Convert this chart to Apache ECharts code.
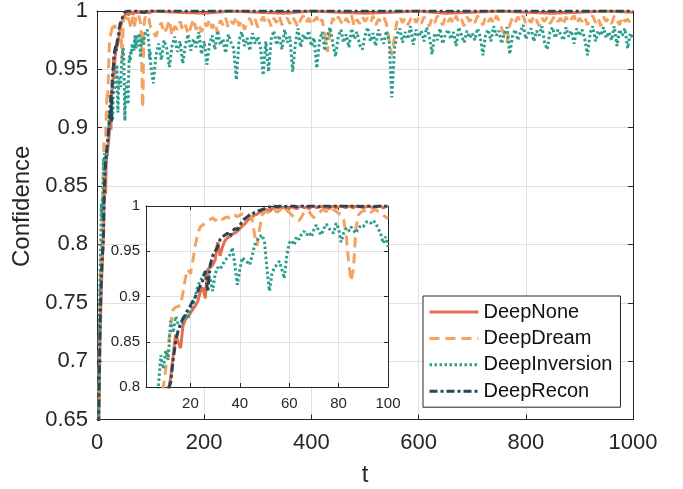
<!DOCTYPE html>
<html>
<head>
<meta charset="utf-8">
<title>Confidence vs t</title>
<script src="https://cdn.jsdelivr.net/npm/echarts@6/dist/echarts.min.js"></script>
<style>
html, body { margin: 0; padding: 0; background: #fff; }
#chart { width: 683px; height: 489px; }
</style>
</head>
<body>
<div id="chart"></div>
<script>
var seriesNames = ['DeepNone', 'DeepDream', 'DeepInversion', 'DeepRecon'];
var colors = ['#e76f51', '#f4a261', '#2a9d8f', '#264653'];

// t = 1..100 (step 1), shared by the main plot and the zoomed inset
var earlyNone = [
  0.49, 0.57, 0.63, 0.67, 0.70, 0.725, 0.745, 0.76, 0.775, 0.786,
  0.797, 0.81, 0.835, 0.858, 0.85, 0.843, 0.868, 0.875, 0.878, 0.882,
  0.886, 0.89, 0.895, 0.905, 0.91, 0.898, 0.93, 0.932, 0.935, 0.94,
  0.96, 0.945, 0.955, 0.962, 0.965, 0.966, 0.969, 0.97, 0.972, 0.975,
  0.978, 0.98, 0.984, 0.986, 0.988, 0.99, 0.991, 0.993, 0.994, 0.995,
  0.996, 0.994, 0.997, 0.998, 0.999, 0.997, 0.998, 0.999, 0.996, 0.998,
  0.999, 0.998, 0.997, 0.999, 1, 0.998, 0.999, 0.997, 0.999, 1,
  0.998, 0.999, 1, 0.998, 0.999, 0.997, 0.999, 1, 0.998, 0.999,
  1, 0.999, 0.998, 1, 0.999, 0.998, 1, 0.999, 1, 0.998,
  0.999, 1, 0.999, 0.998, 1, 0.999, 1, 0.998, 0.999, 1
];
var earlyDream = [
  0.55, 0.62, 0.67, 0.71, 0.74, 0.76, 0.78, 0.79, 0.80, 0.82,
  0.845, 0.869, 0.886, 0.888, 0.889, 0.89, 0.905, 0.921, 0.93, 0.925,
  0.94, 0.957, 0.97, 0.977, 0.979, 0.981, 0.983, 0.985, 0.987, 0.984,
  0.986, 0.988, 0.985, 0.987, 0.988, 0.986, 0.989, 0.99, 0.988, 0.99,
  0.991, 0.99, 0.992, 0.99, 0.985, 0.968, 0.956, 0.975, 0.99, 0.993,
  0.994, 0.992, 0.995, 0.996, 0.993, 0.995, 0.997, 0.994, 0.995, 0.993,
  0.99, 0.988, 0.985, 0.984, 0.988, 0.993, 0.995, 0.994, 0.99, 0.987,
  0.99, 0.992, 0.995, 0.996, 0.994, 0.995, 0.993, 0.996, 0.994, 0.992,
  0.99, 0.985, 0.97, 0.94, 0.917, 0.93, 0.975, 0.99, 0.993, 0.995,
  0.994, 0.996, 0.993, 0.995, 0.996, 0.994, 0.993, 0.99, 0.988, 0.986
];
var earlyInversion = [
  0.52, 0.60, 0.66, 0.71, 0.75, 0.78, 0.80, 0.835, 0.82, 0.84,
  0.83, 0.873, 0.86, 0.878, 0.87, 0.866, 0.872, 0.88, 0.876, 0.885,
  0.891, 0.90, 0.912, 0.917, 0.922, 0.928, 0.925, 0.92, 0.906, 0.925,
  0.932, 0.93, 0.935, 0.94, 0.943, 0.946, 0.954, 0.935, 0.913, 0.93,
  0.943, 0.94, 0.938, 0.935, 0.945, 0.957, 0.962, 0.966, 0.968, 0.96,
  0.93, 0.906, 0.925, 0.932, 0.935, 0.939, 0.93, 0.92, 0.945, 0.959,
  0.962, 0.957, 0.966, 0.963, 0.969, 0.972, 0.968, 0.971, 0.966, 0.974,
  0.979, 0.972, 0.968, 0.975, 0.98, 0.976, 0.972, 0.97, 0.981, 0.975,
  0.96, 0.97, 0.975, 0.972, 0.977, 0.973, 0.97, 0.976, 0.978, 0.977,
  0.982, 0.983, 0.981, 0.984, 0.981, 0.975, 0.97, 0.959, 0.966, 0.955
];
var earlyRecon = [
  0.50, 0.58, 0.64, 0.68, 0.71, 0.735, 0.755, 0.77, 0.78, 0.79,
  0.797, 0.805, 0.83, 0.85, 0.862, 0.87, 0.876, 0.88, 0.886, 0.89,
  0.895, 0.90, 0.906, 0.912, 0.918, 0.928, 0.905, 0.935, 0.945, 0.95,
  0.955, 0.963, 0.966, 0.968, 0.97, 0.966, 0.972, 0.975, 0.974, 0.978,
  0.984, 0.986, 0.988, 0.99, 0.991, 0.993, 0.994, 0.995, 0.996, 0.997,
  0.998, 0.999, 0.999, 1, 0.999, 1, 1, 0.999, 1, 1,
  1, 1, 0.999, 1, 1, 1, 0.999, 1, 1, 1,
  1, 0.999, 1, 1, 1, 1, 0.999, 1, 1, 1,
  1, 1, 1, 0.999, 1, 1, 1, 1, 0.999, 1,
  1, 1, 1, 1, 0.999, 1, 1, 1, 1, 1
];

// t = 105..1000 (step 5)
var lateDream = [
  0.982, 0.978, 0.986, 0.99, 0.981, 0.985, 0.992, 0.979, 0.987, 0.984,
  0.991, 0.983, 0.988, 0.98, 0.986, 0.993, 0.984, 0.989, 0.982, 0.99,
  0.987, 0.993, 0.985, 0.99, 0.981, 0.992, 0.988, 0.994, 0.986, 0.991,
  0.989, 0.995, 0.987, 0.992, 0.984, 0.99, 0.994, 0.988, 0.993, 0.986,
  0.991, 0.995, 0.989, 0.993, 0.987, 0.994, 0.99, 0.996, 0.988, 0.992,
  0.994, 0.989, 0.995, 0.991, 0.986, 0.993, 0.996, 0.99, 0.994, 0.988,
  0.992, 0.995, 0.989, 0.993, 0.98, 0.965, 0.985, 0.994, 0.99, 0.995,
  0.991, 0.988, 0.994, 0.99, 0.996, 0.987, 0.993, 0.989, 0.995, 0.991,
  0.994, 0.99, 0.996, 0.988, 0.993, 0.991, 0.995, 0.989, 0.975, 0.962,
  0.978, 0.992, 0.995, 0.99, 0.994, 0.988, 0.993, 0.996, 0.99, 0.994,
  0.989, 0.995, 0.991, 0.987, 0.994, 0.99, 0.996, 0.992, 0.988, 0.995,
  0.991, 0.994, 0.989, 0.996, 0.99, 0.993, 0.987, 0.995, 0.991, 0.994,
  0.99, 0.996, 0.992, 0.988, 0.995, 0.991, 0.994, 0.989, 0.996, 0.992,
  0.985, 0.98, 0.973, 0.988, 0.994, 0.99, 0.995, 0.991, 0.996, 0.989,
  0.993, 0.99, 0.996, 0.992, 0.987, 0.994, 0.991, 0.995, 0.989, 0.993,
  0.996, 0.991, 0.994, 0.988, 0.995, 0.99, 0.993, 0.996, 0.989, 0.994,
  0.991, 0.995, 0.988, 0.993, 0.996, 0.99, 0.994, 0.987, 0.995, 0.991,
  0.994, 0.989, 0.996, 0.992, 0.988, 0.995, 0.991, 0.993, 0.99, 0.992
];
var lateInversion = [
  0.938, 0.962, 0.972, 0.958, 0.975, 0.968, 0.952, 0.97, 0.978, 0.965,
  0.974, 0.955, 0.971, 0.98, 0.966, 0.976, 0.969, 0.982, 0.963, 0.974,
  0.954, 0.972, 0.979, 0.967, 0.983, 0.971, 0.976, 0.964, 0.98, 0.973,
  0.968, 0.941, 0.975, 0.982, 0.97, 0.977, 0.966, 0.981, 0.972, 0.978,
  0.969, 0.945, 0.974, 0.948, 0.976, 0.983, 0.971, 0.979, 0.967, 0.984,
  0.973, 0.978, 0.948, 0.972, 0.985, 0.969, 0.98, 0.975, 0.983, 0.97,
  0.977, 0.951, 0.974, 0.982, 0.966, 0.979, 0.986, 0.972, 0.961, 0.978,
  0.984, 0.973, 0.98, 0.969, 0.985, 0.976, 0.982, 0.971, 0.967, 0.979,
  0.986, 0.974, 0.981, 0.97, 0.984, 0.977, 0.972, 0.983, 0.975, 0.926,
  0.968, 0.98, 0.985, 0.973, 0.982, 0.976, 0.987, 0.971, 0.984, 0.978,
  0.983, 0.974, 0.986, 0.979, 0.963, 0.981, 0.975, 0.985, 0.972, 0.98,
  0.984, 0.976, 0.982, 0.97, 0.986, 0.979, 0.973, 0.983, 0.977, 0.981,
  0.975, 0.985, 0.978, 0.962, 0.98, 0.984, 0.974, 0.987, 0.979, 0.983,
  0.972, 0.981, 0.986, 0.963, 0.978, 0.984, 0.975, 0.982, 0.988, 0.976,
  0.981, 0.985, 0.974, 0.983, 0.979, 0.987, 0.973, 0.967, 0.982, 0.986,
  0.977, 0.984, 0.98, 0.975, 0.986, 0.978, 0.983, 0.972, 0.985, 0.979,
  0.984, 0.976, 0.962, 0.981, 0.987, 0.974, 0.983, 0.979, 0.986, 0.977,
  0.982, 0.975, 0.987, 0.97, 0.984, 0.979, 0.985, 0.968, 0.981, 0.976
];

// t = 150..1000 (step 50), both curves sit on the ceiling
var lateNone = [0.999, 0.998, 1, 0.999, 0.998, 1, 0.999, 0.998, 0.999, 1, 0.998, 0.999, 1, 0.999, 0.998, 0.999, 1, 0.999];
var lateRecon = [1, 1, 1, 1, 1, 1, 1, 1, 1, 1, 1, 1, 1, 1, 1, 1, 1, 1];

var insetXTicks = [20, 40, 60, 80, 100];

function pairs(values, start, step) {
    return values.map(function (v, i) { return [start + i * step, v]; });
}

var mainData = [
    pairs(earlyNone, 1, 1).concat(pairs(lateNone, 150, 50)),
    pairs(earlyDream, 1, 1).concat(pairs(lateDream, 105, 5)),
    pairs(earlyInversion, 1, 1).concat(pairs(lateInversion, 105, 5)),
    pairs(earlyRecon, 1, 1).concat(pairs(lateRecon, 150, 50))
];
var insetData = [
    pairs(earlyNone, 1, 1),
    pairs(earlyDream, 1, 1),
    pairs(earlyInversion, 1, 1),
    pairs(earlyRecon, 1, 1)
];
var dashes = ['solid', [10, 6], [2.5, 2.5], [8, 3, 3, 3]];

var axisColor = '#262626';
var gridColor = '#e0e0e0';
var font = 'Liberation Sans, Arial, Helvetica, sans-serif';

function plainNumber(v) { return String(v); }

var chart = echarts.init(document.getElementById('chart'), null, { renderer: 'canvas' });

var series = [];
seriesNames.forEach(function (name, i) {
    series.push({
        name: name,
        type: 'line',
        xAxisIndex: 0,
        yAxisIndex: 0,
        data: mainData[i],
        showSymbol: false,
        symbol: 'none',
        z: 2 + i * 0.01,
        lineStyle: { color: colors[i], width: 3, type: dashes[i] },
        itemStyle: { color: colors[i] }
    });
});
seriesNames.forEach(function (name, i) {
    series.push({
        name: name,
        type: 'line',
        xAxisIndex: 2,
        yAxisIndex: 2,
        data: insetData[i],
        showSymbol: false,
        symbol: 'none',
        z: 5 + i * 0.01,
        lineStyle: { color: colors[i], width: 3, type: dashes[i] },
        itemStyle: { color: colors[i] }
    });
});

var option = {
    animation: false,
    backgroundColor: '#fff',
    textStyle: { fontFamily: font, color: axisColor },
    grid: [
        { left: 97, top: 11, width: 536, height: 408.5, outerBoundsMode: 'none', z: 0 },
        { left: 146, top: 206, width: 242, height: 181, show: true, backgroundColor: '#fff',
          borderWidth: 0, outerBoundsMode: 'none', z: 3 }
    ],
    legend: {
        data: seriesNames,
        orient: 'vertical',
        left: 423,
        top: 296,
        padding: [6, 8, 6, 5],
        itemGap: 6.4,
        itemWidth: 49,
        itemHeight: 14,
        backgroundColor: '#fff',
        borderColor: axisColor,
        borderWidth: 1,
        borderRadius: 0,
        z: 10,
        itemStyle: { opacity: 0 },
        lineStyle: { width: 3 },
        textStyle: { fontSize: 20, fontFamily: font, color: '#111' }
    },
    xAxis: [
        {
            gridIndex: 0, type: 'value', min: 0, max: 1000, interval: 200, position: 'bottom',
            name: 't', nameLocation: 'middle', nameGap: 44,
            nameTextStyle: { fontSize: 24, fontFamily: font, color: axisColor },
            axisLine: { show: true, onZero: false, lineStyle: { color: axisColor, width: 1 } },
            axisTick: { show: true, inside: true, length: 5, lineStyle: { color: axisColor } },
            axisLabel: { fontSize: 22, margin: 12, color: axisColor, fontFamily: font, formatter: plainNumber },
            splitLine: { show: true, lineStyle: { color: gridColor, width: 1 } }
        },
        {
            gridIndex: 0, type: 'value', min: 0, max: 1000, interval: 200, position: 'top',
            axisLine: { show: true, onZero: false, lineStyle: { color: axisColor, width: 1 } },
            axisTick: { show: true, inside: true, length: 5, lineStyle: { color: axisColor } },
            axisLabel: { show: false },
            splitLine: { show: false }
        },
        {
            gridIndex: 1, type: 'value', min: 2, max: 100, position: 'bottom', z: 4,
            axisLine: { show: true, onZero: false, lineStyle: { color: axisColor, width: 1 } },
            axisTick: { show: true, inside: true, length: 4, customValues: insetXTicks, lineStyle: { color: axisColor } },
            axisLabel: { fontSize: 15, margin: 9, color: axisColor, fontFamily: font, customValues: insetXTicks },
            splitLine: { show: true, lineStyle: { color: gridColor, width: 1 } }
        },
        {
            gridIndex: 1, type: 'value', min: 2, max: 100, position: 'top', z: 4,
            axisLine: { show: true, onZero: false, lineStyle: { color: axisColor, width: 1 } },
            axisTick: { show: true, inside: true, length: 4, customValues: insetXTicks, lineStyle: { color: axisColor } },
            axisLabel: { show: false },
            splitLine: { show: false }
        }
    ],
    yAxis: [
        {
            gridIndex: 0, type: 'value', min: 0.65, max: 1, interval: 0.05, position: 'left',
            name: 'Confidence', nameLocation: 'middle', nameGap: 60, nameRotate: 90,
            nameTextStyle: { fontSize: 24, fontFamily: font, color: axisColor, padding: [0, 0, 0, 18] },
            axisLine: { show: true, onZero: false, lineStyle: { color: axisColor, width: 1 } },
            axisTick: { show: true, inside: true, length: 5, lineStyle: { color: axisColor } },
            axisLabel: { fontSize: 22, margin: 9, color: axisColor, fontFamily: font },
            splitLine: { show: true, lineStyle: { color: gridColor, width: 1 } }
        },
        {
            gridIndex: 0, type: 'value', min: 0.65, max: 1, interval: 0.05, position: 'right',
            axisLine: { show: true, onZero: false, lineStyle: { color: axisColor, width: 1 } },
            axisTick: { show: true, inside: true, length: 5, lineStyle: { color: axisColor } },
            axisLabel: { show: false },
            splitLine: { show: false }
        },
        {
            gridIndex: 1, type: 'value', min: 0.8, max: 1, interval: 0.05, position: 'left', z: 4,
            axisLine: { show: true, onZero: false, lineStyle: { color: axisColor, width: 1 } },
            axisTick: { show: true, inside: true, length: 4, lineStyle: { color: axisColor } },
            axisLabel: { fontSize: 15, margin: 6, color: axisColor, fontFamily: font },
            splitLine: { show: true, lineStyle: { color: gridColor, width: 1 } }
        },
        {
            gridIndex: 1, type: 'value', min: 0.8, max: 1, interval: 0.05, position: 'right', z: 4,
            axisLine: { show: true, onZero: false, lineStyle: { color: axisColor, width: 1 } },
            axisTick: { show: true, inside: true, length: 4, lineStyle: { color: axisColor } },
            axisLabel: { show: false },
            splitLine: { show: false }
        }
    ],
    series: series
};
chart.setOption(option);
</script>
</body>
</html>
